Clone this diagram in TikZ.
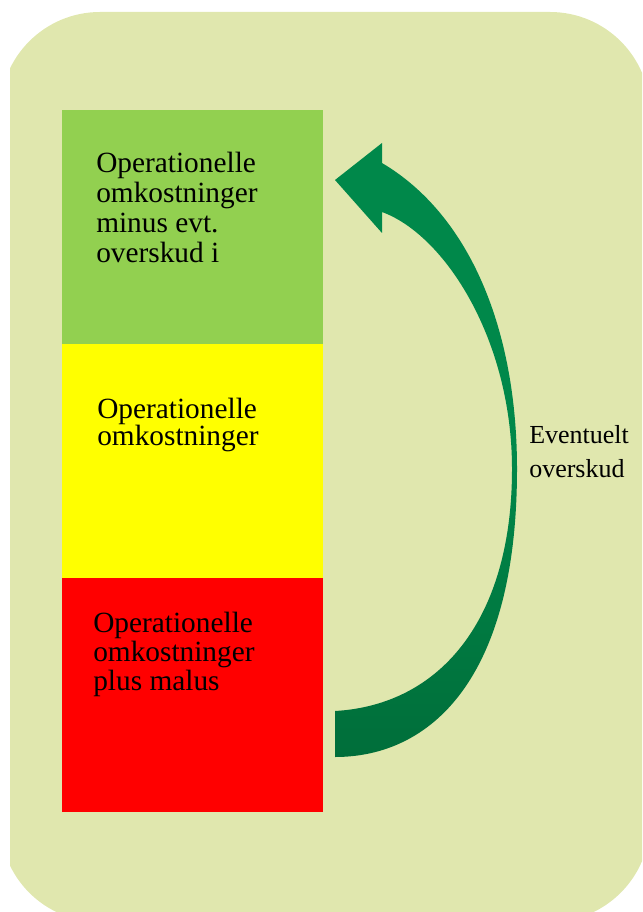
\documentclass[tikz,border=0pt]{standalone}
\usepackage{fontspec}
\setmainfont{Liberation Serif}
\usetikzlibrary{positioning}
\definecolor{panel}{RGB}{224,231,174}
\definecolor{boxgreen}{RGB}{146,208,80}
\definecolor{boxyellow}{RGB}{255,255,0}
\definecolor{arrowlight}{RGB}{0,136,74}
\definecolor{arrowdark}{RGB}{0,110,58}

\begin{document}
\begin{tikzpicture}[x=0.75pt, y=-0.75pt,
        level/.style={rectangle, minimum width=195.75pt, minimum height=175.5pt, inner sep=0pt, outer sep=0pt},
        leveltext/.style={anchor=north west, inner sep=0pt, align=left, font=\fontsize{22}{#1}\selectfont}]
            \useasboundingbox (0,0) rectangle (642,912);
            \begin{scope}
                \clip (10,0) rectangle (642,912);
                \fill[panel, rounded corners=75pt] (0,12) rectangle (650,922);
            \end{scope}
            \node[level, fill=boxgreen, anchor=north west] (minus) at (62,110) {};
            \node[level, fill=boxyellow, below=0pt of minus] (plain) {};
            \node[level, fill=red, below=0pt of plain] (malus) {};
            \node[leveltext=22.5pt] (minustext) at (96,152) {Operationelle\\omkostninger\\minus evt.\\overskud i};
            \node[leveltext=20.25pt] (plaintext) at (97,398) {Operationelle\\omkostninger};
            \node[leveltext=21.75pt] (malustext) at (93,612) {Operationelle\\omkostninger\\plus malus};
            \path[top color=arrowlight, bottom color=arrowdark, middle color=arrowlight]
                (335,757) .. controls (430,757) and (517,680) .. (517,469)
                .. controls (517,330) and (470,215) .. (382,163)
                -- (382,143) -- (335,180) -- (382,233) -- (382,212)
                .. controls (445,235) and (512,340) .. (512,469)
                .. controls (512,620) and (440,705) .. (335,711) -- cycle;
            \node[leveltext=25.5pt, font=\fontsize{19.5}{25.5}\selectfont] (surplus) at (529,425) {Eventuelt\\overskud};
        \end{tikzpicture}
\end{document}
